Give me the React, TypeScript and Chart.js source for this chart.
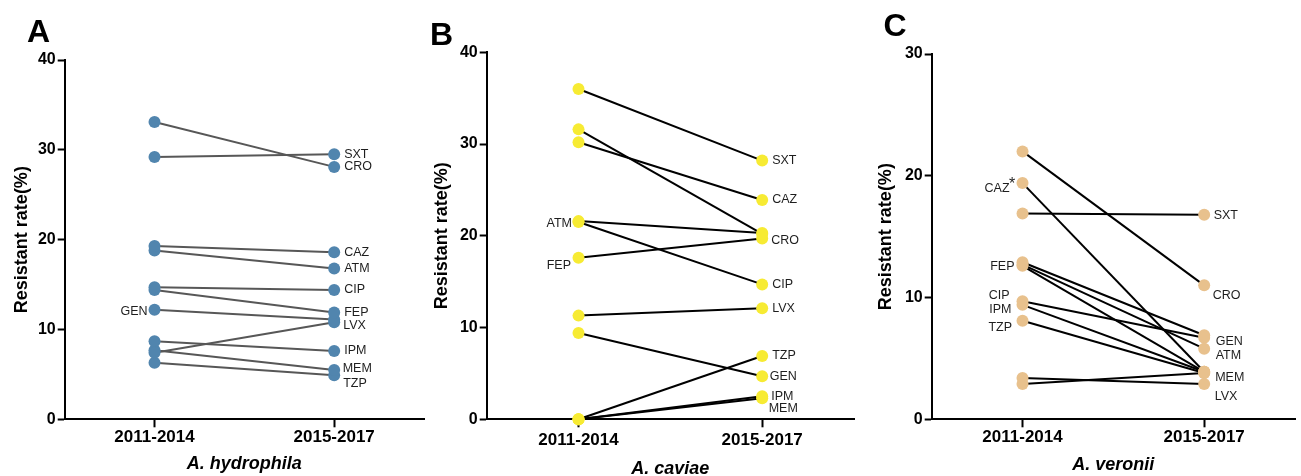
import React, { useEffect, useRef } from 'react';
import { Chart, registerables } from 'chart.js';

Chart.register(...registerables);

const FONT = '"Liberation Sans", Arial, Helvetica, sans-serif';

// ---------- data ----------
const periods = ['2011-2014', '2015-2017'];
const yAxisTitle = 'Resistant rate(%)';

const hydrophilaDrugs = ['CRO', 'SXT', 'CAZ', 'ATM', 'CIP', 'FEP', 'GEN', 'LVX', 'IPM', 'MEM', 'TZP'];
const hydrophila20112014 = [33.1, 29.2, 19.3, 18.8, 14.7, 14.4, 12.2, 7.4, 8.7, 7.7, 6.3];
const hydrophila20152017 = [28.1, 29.5, 18.6, 16.8, 14.4, 11.9, 11.1, 10.8, 7.6, 5.5, 4.9];
const hydrophilaTicks = [0, 10, 20, 30, 40];

const caviaeDrugs = ['SXT', 'CRO', 'CAZ', 'ATM', 'CIP', 'FEP', 'LVX', 'GEN', 'TZP', 'IPM', 'MEM'];
const caviae20112014 = [36.0, 31.6, 30.2, 21.6, 21.5, 17.6, 11.3, 9.4, 0, 0, 0];
const caviae20152017 = [28.2, 20.2, 23.9, 20.3, 14.7, 19.7, 12.1, 4.7, 6.9, 2.5, 2.3];
const caviaeTicks = [0, 10, 20, 30, 40];

const veroniiDrugs = ['CRO', 'CAZ', 'SXT', 'GEN', 'ATM', 'FEP', 'CIP', 'IPM', 'TZP', 'MEM', 'LVX'];
const veronii20112014 = [22.0, 19.4, 16.9, 12.9, 12.7, 12.6, 9.7, 9.4, 8.1, 2.9, 3.4];
const veronii20152017 = [11.0, 3.9, 16.8, 6.9, 5.8, 3.9, 6.7, 3.9, 3.8, 3.8, 2.9];
const veroniiTicks = [0, 10, 20, 30];

// ---------- label placement (pixel offsets from the data point) ----------
type LabelSpec = { drug: string; side: 'left' | 'right'; dx: number; dy: number; text?: string; align?: CanvasTextAlign; size?: number };

const hydrophilaLabels: LabelSpec[] = [
  { drug: 'SXT', side: 'right', dx: 10, dy: 0 },
  { drug: 'CRO', side: 'right', dx: 10, dy: 0 },
  { drug: 'CAZ', side: 'right', dx: 10, dy: 0 },
  { drug: 'ATM', side: 'right', dx: 10, dy: 0 },
  { drug: 'CIP', side: 'right', dx: 10, dy: 0 },
  { drug: 'FEP', side: 'right', dx: 10, dy: 0 },
  { drug: 'LVX', side: 'right', dx: 9, dy: 3.5 },
  { drug: 'IPM', side: 'right', dx: 10, dy: 0 },
  { drug: 'MEM', side: 'right', dx: 8.5, dy: -1.5 },
  { drug: 'TZP', side: 'right', dx: 9, dy: 8 },
  { drug: 'GEN', side: 'left', dx: -7, dy: 1.5 },
];

const caviaeLabels: LabelSpec[] = [
  { drug: 'SXT', side: 'right', dx: 10, dy: 0 },
  { drug: 'CAZ', side: 'right', dx: 10, dy: 0 },
  { drug: 'CRO', side: 'right', dx: 9, dy: 6.7 },
  { drug: 'CIP', side: 'right', dx: 10, dy: 0 },
  { drug: 'LVX', side: 'right', dx: 10, dy: 0 },
  { drug: 'TZP', side: 'right', dx: 10, dy: 0 },
  { drug: 'GEN', side: 'right', dx: 7.5, dy: 0.5 },
  { drug: 'IPM', side: 'right', dx: 9, dy: 0 },
  { drug: 'MEM', side: 'right', dx: 6.5, dy: 10 },
  { drug: 'ATM', side: 'left', dx: -6.5, dy: 2.5 },
  { drug: 'FEP', side: 'left', dx: -7.5, dy: 8 },
];

const veroniiLabels: LabelSpec[] = [
  { drug: 'SXT', side: 'right', dx: 9.5, dy: 1 },
  { drug: 'CRO', side: 'right', dx: 8.5, dy: 10 },
  { drug: 'GEN', side: 'right', dx: 11.5, dy: 6.5 },
  { drug: 'ATM', side: 'right', dx: 11.5, dy: 7 },
  { drug: 'MEM', side: 'right', dx: 11, dy: 5 },
  { drug: 'LVX', side: 'right', dx: 10.5, dy: 13 },
  { drug: 'CAZ', side: 'left', dx: -13, dy: 5 },
  { drug: 'CAZ', side: 'left', dx: -13.5, dy: 1.5, text: '*', align: 'left', size: 16 },
  { drug: 'FEP', side: 'left', dx: -8, dy: 1 },
  { drug: 'CIP', side: 'left', dx: -13, dy: -6 },
  { drug: 'IPM', side: 'left', dx: -11, dy: 5 },
  { drug: 'TZP', side: 'left', dx: -10.5, dy: 7 },
];

// ---------- panel specs (layout & style) ----------
type Panel = {
  letter: string;
  letterX: number;
  letterBaseline: number;
  species: string;
  drugs: string[];
  before: number[];
  after: number[];
  yTicks: number[];
  labels: LabelSpec[];
  pointColor: string;
  lineColor: string;
  canvasLeft: number;
  canvasWidth: number;
  areaLeft: number;
  areaRight: number;
  areaTop: number;
  yTitleX: number;
  xTitleY: number;
  xTickPad: number;
};

const CANVAS_H = 484;
const AREA_BOTTOM = 419.3;

const panels: Panel[] = [
  {
    letter: 'A', letterX: 27, letterBaseline: 41.5, species: 'A. hydrophila',
    drugs: hydrophilaDrugs, before: hydrophila20112014, after: hydrophila20152017, yTicks: hydrophilaTicks,
    labels: hydrophilaLabels, pointColor: '#5185ae', lineColor: '#575757',
    canvasLeft: 0, canvasWidth: 430, areaLeft: 64.7, areaRight: 427, areaTop: 60, yTitleX: 21.7, xTitleY: 464.5, xTickPad: 0,
  },
  {
    letter: 'B', letterX: 0, letterBaseline: 45, species: 'A. caviae',
    drugs: caviaeDrugs, before: caviae20112014, after: caviae20152017, yTicks: caviaeTicks,
    labels: caviaeLabels, pointColor: '#f7eb33', lineColor: '#000000',
    canvasLeft: 430, canvasWidth: 430, areaLeft: 486.7, areaRight: 855, areaTop: 52.3, yTitleX: 441.7, xTitleY: 469, xTickPad: 2.5,
  },
  {
    letter: 'C', letterX: 23.5, letterBaseline: 36, species: 'A. veronii',
    drugs: veroniiDrugs, before: veronii20112014, after: veronii20152017, yTicks: veroniiTicks,
    labels: veroniiLabels, pointColor: '#e8c18d', lineColor: '#000000',
    canvasLeft: 860, canvasWidth: 441, areaLeft: 931.7, areaRight: 1296.7, areaTop: 54, yTitleX: 885.7, xTitleY: 465, xTickPad: 0,
  },
];

function makeLabelPlugin(p: Panel) {
  return {
    id: 'slopeLabels',
    afterDatasetsDraw(chart: any) {
      const { ctx } = chart;
      const xs = chart.scales.x;
      const ys = chart.scales.y;
      ctx.save();
      ctx.fillStyle = '#000';
      ctx.font = `bold 32px ${FONT}`;
      ctx.textAlign = 'left';
      ctx.textBaseline = 'alphabetic';
      ctx.fillText(p.letter, p.letterX, p.letterBaseline);
      ctx.fillStyle = '#1e1e1e';
      ctx.textBaseline = 'middle';
      p.labels.forEach((l) => {
        const i = p.drugs.indexOf(l.drug);
        if (i < 0) return;
        const idx = l.side === 'left' ? 0 : 1;
        const v = l.side === 'left' ? p.before[i] : p.after[i];
        const px = xs.getPixelForValue(idx);
        const py = ys.getPixelForValue(v);
        ctx.font = `${l.size ?? 12.5}px ${FONT}`;
        ctx.textAlign = l.align ?? (l.side === 'left' ? 'right' : 'left');
        ctx.fillText(l.text ?? l.drug, px + l.dx, py + l.dy);
      });
      ctx.restore();
    },
  };
}

function SlopePanel({ p }: { p: Panel }) {
  const ref = useRef<HTMLCanvasElement | null>(null);
  useEffect(() => {
    if (!ref.current) return;
    const lineSets = p.drugs.map((d, i) => ({
      label: d,
      data: [p.before[i], p.after[i]],
      borderColor: p.lineColor,
      borderWidth: 2,
      pointRadius: 0,
      fill: false,
      tension: 0,
      clip: false as any,
      order: 2,
    }));
    const pointSets = p.drugs.map((d, i) => ({
      label: d + ' points',
      data: [p.before[i], p.after[i]],
      showLine: false,
      pointRadius: 6,
      pointBackgroundColor: p.pointColor,
      pointBorderColor: p.pointColor,
      pointBorderWidth: 0,
      clip: false as any,
      order: 1,
    }));
    const chart = new Chart(ref.current, {
      type: 'line',
      data: { labels: periods, datasets: [...lineSets, ...pointSets] as any },
      options: {
        responsive: false,
        animation: false,
        devicePixelRatio: 1,
        layout: {
          padding: {
            left: 0,
            top: p.areaTop,
            right: p.canvasLeft + p.canvasWidth - p.areaRight,
            bottom: 0,
          },
        },
        plugins: { legend: { display: false }, tooltip: { enabled: false } },
        scales: {
          x: {
            type: 'category',
            offset: true,
            grid: {
              offset: false,
              drawOnChartArea: false,
              drawTicks: true,
              tickLength: 8,
              tickColor: '#000',
              tickWidth: 2,
              color: '#000',
            },
            border: { display: true, color: '#000', width: 2 },
            ticks: {
              color: '#000',
              font: { family: FONT, size: 17, weight: 'bold' },
              padding: p.xTickPad,
              maxRotation: 0,
              autoSkip: false,
            },
            title: {
              display: true,
              text: p.species,
              color: '#000',
              font: { family: FONT, size: 18, weight: 'bold', style: 'italic' },
              padding: { top: 0, bottom: CANVAS_H - 10.8 - p.xTitleY },
            },
            afterFit: (s: any) => {
              s.height = CANVAS_H - AREA_BOTTOM;
            },
          },
          y: {
            type: 'linear',
            min: p.yTicks[0],
            max: p.yTicks[p.yTicks.length - 1],
            afterBuildTicks: (s: any) => {
              s.ticks = p.yTicks.map((v) => ({ value: v }));
            },
            grid: {
              drawOnChartArea: false,
              drawTicks: true,
              tickLength: 7,
              tickColor: '#000',
              tickWidth: 2,
              color: '#000',
            },
            border: { display: true, color: '#000', width: 2 },
            ticks: {
              color: '#000',
              font: { family: FONT, size: 16, weight: 'bold' },
              padding: 2,
            },
            title: {
              display: true,
              text: yAxisTitle,
              color: '#000',
              font: { family: FONT, size: 18, weight: 'bold' },
              padding: { top: p.yTitleX - p.canvasLeft - 10.8, bottom: 0 },
            },
            afterFit: (s: any) => {
              s.width = p.areaLeft - p.canvasLeft;
            },
          },
        },
      } as any,
      plugins: [makeLabelPlugin(p)],
    });
    return () => chart.destroy();
  }, [p]);
  return (
    <canvas
      ref={ref}
      width={p.canvasWidth}
      height={CANVAS_H}
      style={{ position: 'absolute', left: p.canvasLeft, top: 0, width: p.canvasWidth, height: CANVAS_H }}
    />
  );
}

export default function App() {
  return (
    <div
      style={{
        position: 'absolute',
        left: 0,
        top: 0,
        width: 1301,
        height: 476,
        overflow: 'hidden',
        background: '#fff',
      }}
    >
      {panels.map((p) => (
        <SlopePanel key={p.letter} p={p} />
      ))}
    </div>
  );
}
